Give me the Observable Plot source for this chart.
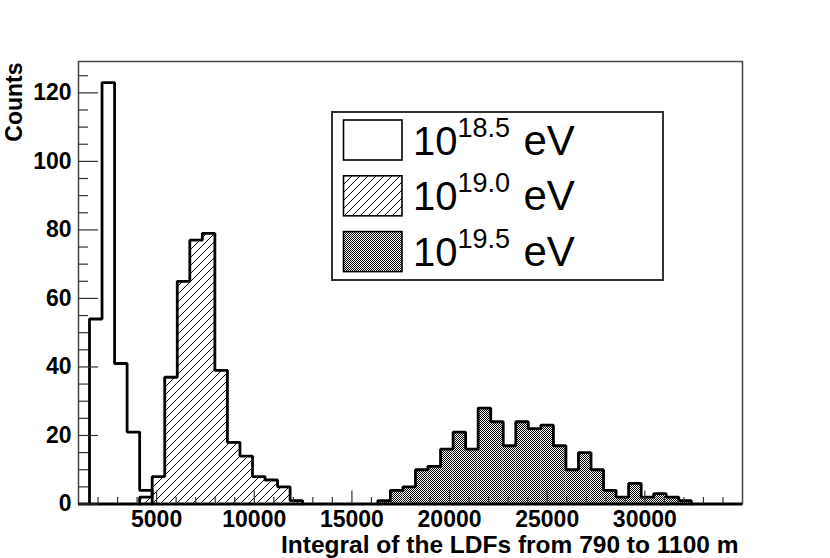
<!DOCTYPE html>
<html>
<head>
<meta charset="utf-8">
<script src="https://cdn.jsdelivr.net/npm/d3@7"></script>
<script src="https://cdn.jsdelivr.net/npm/@observablehq/plot@0.6"></script>
<style>
  html, body { margin: 0; padding: 0; background: white; }
  #wrap { position: relative; width: 830px; height: 558px; font-family: "Liberation Sans", Arial, Helvetica, sans-serif; }
  #wrap svg { position: absolute; left: 0; top: 0; }
</style>
</head>
<body>
<div id="wrap"></div>
<script>
// ---- data ----
const xTitle = "Integral of the LDFs from 790 to 1100 m";
const yTitle = "Counts";
const energyExponents = ["18.5", "19.0", "19.5"];
const binStart = 921;     // lower edge of bin index 0
const binWidth = 642;     // common bin width
const first185 = 1;
const counts185 = [54, 123, 41, 21, 4];
const first190 = 5;
const counts190 = [2, 8, 37, 65, 77, 79, 39, 18, 14, 8, 7, 5, 1];
const first195 = 24;
const counts195 = [1, 4, 5, 10, 11, 16, 21, 16, 28, 24, 17, 24, 22, 23, 17, 10, 15, 10, 4, 2, 6, 2, 3, 2, 1];
const xTickLabels = [5000, 10000, 15000, 20000, 25000, 30000];
const yTickLabels = [0, 20, 40, 60, 80, 100, 120];
const xDomain = [1000, 35000];
const yDomain = [0, 129.15];

// ---- build tables ----
function bins(first, counts) {
  return counts.map((c, i) => ({x1: binStart + (first + i) * binWidth, x2: binStart + (first + i + 1) * binWidth, c}));
}
function outline(b) {
  const last = b[b.length - 1];
  return [{x: b[0].x1, y: 0}, ...b.map(d => ({x: d.x1, y: d.c})), {x: last.x2, y: last.c}, {x: last.x2, y: 0}];
}
const b185 = bins(first185, counts185);
const b190 = bins(first190, counts190);
const b195 = bins(first195, counts195);

const W = 830, H = 558;
const mL = 78, mR = 88, mT = 61, mB = 54.5;
const plotW = W - mL - mR, plotH = H - mT - mB;

const yMinor = d3.range(5, 130, 5).filter(v => v % 20 !== 0 && v <= yDomain[1]);
const xMinor = d3.range(2000, 35000, 1000).filter(v => v % 5000 !== 0);

const font = "Liberation Sans, Arial, Helvetica, sans-serif";
const tickColor = "#333";

const chart = Plot.plot({
  width: W, height: H,
  marginLeft: mL, marginRight: mR, marginTop: mT, marginBottom: mB,
  style: {fontFamily: font, color: "black", background: "white", overflow: "visible"},
  x: {domain: xDomain},
  y: {domain: yDomain},
  marks: [
    // fills
    Plot.rect(b190, {x1: "x1", x2: "x2", y1: 0, y2: "c", fill: "url(#hatch)"}),
    Plot.rect(b195, {x1: "x1", x2: "x2", y1: 0, y2: "c", fill: "url(#stipple)"}),
    // outlines
    Plot.line(outline(b185), {x: "x", y: "y", curve: "step-after", stroke: "black", strokeWidth: 2.8, strokeLinejoin: "miter"}),
    Plot.line(outline(b190), {x: "x", y: "y", curve: "step-after", stroke: "black", strokeWidth: 2.8, strokeLinejoin: "miter"}),
    Plot.line(outline(b195), {x: "x", y: "y", curve: "step-after", stroke: "black", strokeWidth: 2.8, strokeLinejoin: "miter"}),
    // frame
    Plot.frame({stroke: "#444", strokeWidth: 1.5}),
    Plot.ruleY([0], {stroke: "black", strokeWidth: 3}),
    // ticks (inward)
    Plot.tickY(yTickLabels, {y: d => d, insetRight: plotW - 20, stroke: tickColor, strokeWidth: 1.2}),
    Plot.tickY(yMinor, {y: d => d, insetRight: plotW - 10, stroke: tickColor, strokeWidth: 1.2}),
    Plot.tickX(xTickLabels, {x: d => d, insetTop: plotH - 13, stroke: tickColor, strokeWidth: 1.2}),
    Plot.tickX(xMinor, {x: d => d, insetTop: plotH - 6.5, stroke: tickColor, strokeWidth: 1.2}),
    // tick labels
    Plot.axisY({ticks: yTickLabels, tickSize: 0, tickPadding: 7, fontSize: 23, fontWeight: "bold", label: null, tickFormat: d => String(d)}),
    Plot.axisX({ticks: xTickLabels, tickSize: 0, tickPadding: 7, fontSize: 23, fontWeight: "bold", label: null, tickFormat: d => String(d)}),
    // axis titles
    Plot.text([yTitle], {text: d => d, frameAnchor: "top-left", rotate: -90, textAnchor: "end", lineAnchor: "bottom", dx: -(mL - 21), dy: 1, fontSize: 23, fontWeight: "bold", fill: "black"}),
    Plot.text([xTitle], {text: d => d, frameAnchor: "bottom-right", textAnchor: "end", lineAnchor: "bottom", dx: -4, dy: 49, fontSize: 24.5, fontWeight: "bold", fill: "black"})
  ]
});
const wrap = document.getElementById("wrap");
wrap.appendChild(chart);

// ---- legend overlay (with pattern definitions) ----
const leg = d3.select(wrap).append("svg").attr("width", W).attr("height", H).style("pointer-events", "none");
const defs = leg.append("defs");
const hs = 8;
const hatch = defs.append("pattern").attr("id", "hatch").attr("patternUnits", "userSpaceOnUse").attr("width", hs).attr("height", hs);
hatch.append("path")
  .attr("d", `M-1,1 L1,-1 M0,${hs} L${hs},0 M${hs - 1},${hs + 1} L${hs + 1},${hs - 1}`)
  .attr("stroke", "black").attr("stroke-width", 1).attr("fill", "none");
const stip = defs.append("pattern").attr("id", "stipple").attr("patternUnits", "userSpaceOnUse").attr("width", 2).attr("height", 2);
stip.append("rect").attr("width", 2).attr("height", 2).attr("fill", "white");
stip.append("rect").attr("x", 0).attr("y", 0).attr("width", 1).attr("height", 1).attr("fill", "black");
stip.append("rect").attr("x", 1).attr("y", 1).attr("width", 1).attr("height", 1).attr("fill", "black");

leg.append("rect").attr("x", 332).attr("y", 112).attr("width", 331).attr("height", 168)
  .attr("fill", "white").attr("stroke", "#333").attr("stroke-width", 2);
const fills = ["white", "url(#hatch)", "url(#stipple)"];
energyExponents.forEach((e, i) => {
  const top = 120 + i * 55.8;
  leg.append("rect").attr("x", 343.5).attr("y", top).attr("width", 58.5).attr("height", 40)
    .attr("fill", fills[i]).attr("stroke", "black").attr("stroke-width", 1.6);
  const base = 155 + i * 55.4;
  const t = leg.append("text").attr("font-family", font).attr("fill", "black");
  t.append("tspan").attr("x", 413).attr("y", base).attr("font-size", 40).text("10");
  t.append("tspan").attr("x", 457.5).attr("y", base - 18.3).attr("font-size", 27).text(e);
  t.append("tspan").attr("x", 523.5).attr("y", base).attr("font-size", 42).text("eV");
});
</script>
</body>
</html>
